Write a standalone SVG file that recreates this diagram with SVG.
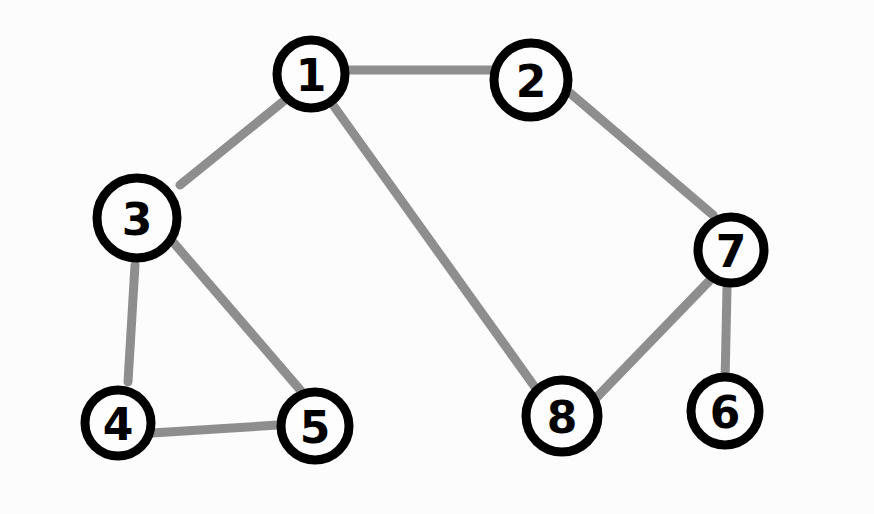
<svg xmlns="http://www.w3.org/2000/svg" width="874" height="514" viewBox="0 0 874 514">
<style>
.edge{stroke:#8e8e8e;stroke-width:9;stroke-linecap:round;fill:none}
.node circle{fill:#fdfdfd;stroke:#000;stroke-width:9}
.node text{font-family:"DejaVu Sans","Liberation Sans",sans-serif;font-weight:bold;font-size:44px;fill:#000;text-anchor:middle;dominant-baseline:central}
</style>
<rect width="874" height="514" fill="#fcfcfc"/>
<g id="connectors">
<line class="edge" x1="350" y1="70" x2="492" y2="70"/>
<line class="edge" x1="285" y1="100" x2="180" y2="185"/>
<line class="edge" x1="333" y1="105" x2="542" y2="397"/>
<line class="edge" x1="570" y1="93" x2="713" y2="215"/>
<line class="edge" x1="135" y1="265" x2="128" y2="382"/>
<line class="edge" x1="173" y1="242" x2="302" y2="392"/>
<line class="edge" x1="152" y1="433" x2="278" y2="425"/>
<line class="edge" x1="715" y1="275" x2="597" y2="397"/>
<line class="edge" x1="727" y1="288" x2="725" y2="383"/>
</g>
<g id="node1" class="node"><circle cx="311" cy="74" r="34"/><text x="311" y="75">1</text></g>
<g id="node2" class="node"><circle cx="531" cy="80" r="37"/><text x="531" y="81">2</text></g>
<g id="node3" class="node"><circle cx="137" cy="218" r="40"/><text x="137" y="219">3</text></g>
<g id="node4" class="node"><circle cx="118" cy="423" r="33"/><text x="118" y="424">4</text></g>
<g id="node5" class="node"><circle cx="315" cy="426" r="34"/><text x="315" y="427">5</text></g>
<g id="node7" class="node"><circle cx="731" cy="250" r="33"/><text x="731" y="251">7</text></g>
<g id="node8" class="node"><circle cx="562" cy="416" r="36"/><text x="562" y="417">8</text></g>
<g id="node6" class="node"><circle cx="725" cy="411" r="34"/><text x="725" y="412">6</text></g>
</svg>
